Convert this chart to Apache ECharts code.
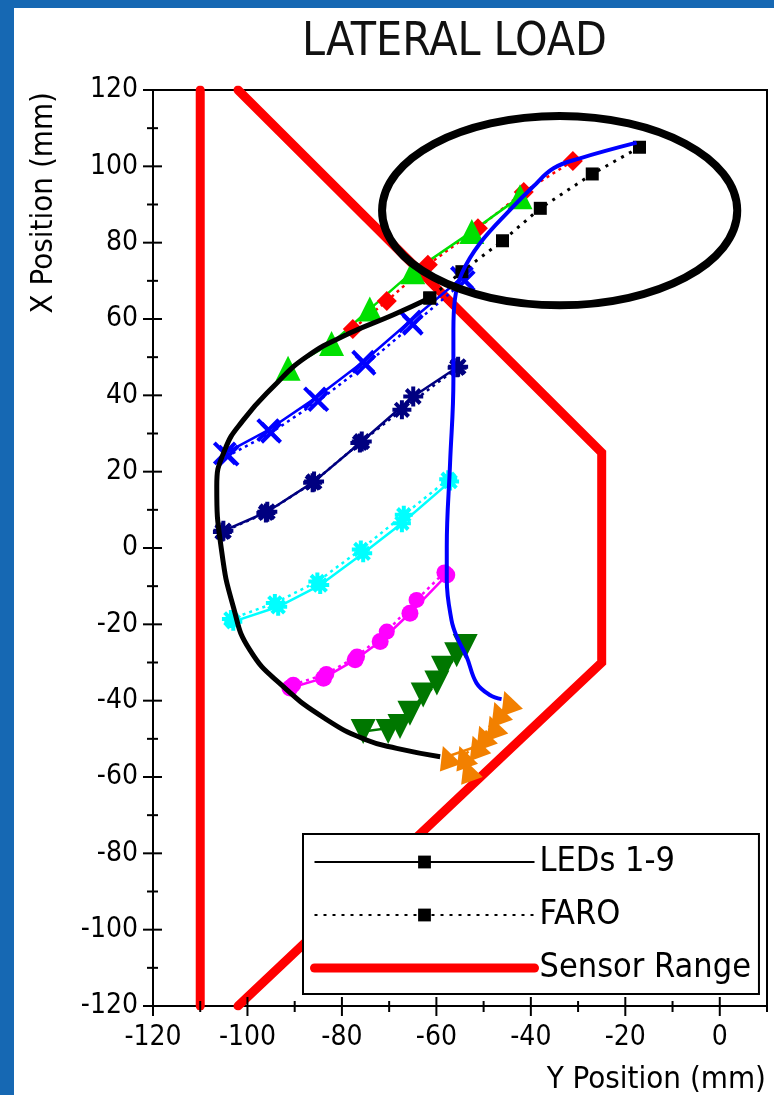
<!DOCTYPE html>
<html>
<head>
<meta charset="UTF-8">
<title>Lateral Load</title>
<script src="https://cdn.jsdelivr.net/npm/echarts@6/dist/echarts.min.js"></script>
<style>
  * { margin: 0; padding: 0; }
  body { background: #fff; }
  #chart { width: 774px; height: 1095px; }
</style>
</head>
<body>
<div id="chart"></div>
<script>
const FONT = '"DejaVu Sans Condensed", "Liberation Sans Narrow", "DejaVu Sans", sans-serif';

// axis ticks (major ones are labelled)
const xMajorTicks = [-120, -100, -80, -60, -40, -20, 0];
const xMinorTicks = [-110, -90, -70, -50, -30, -10, 10];
const yMajorTicks = [-120, -100, -80, -60, -40, -20, 0, 20, 40, 60, 80, 100, 120];
const yMinorTicks = [-110, -90, -70, -50, -30, -10, 10, 30, 50, 70, 90, 110];

// sensor range outline
const sensorLeft = [[-110, 120], [-110, -120]];
const sensorRight = [[-102, 120], [-25, 25], [-25, -30], [-102, -120]];

// black: LED envelope curve and FARO squares
const blackLed = [[-59.2, -54.7], [-68.4, -52.5], [-74.8, -50.3], [-83.2, -45], [-92.4, -36.3], [-99.5, -26.7],
  [-103, -15.4], [-105.5, -0.5], [-106.5, 16.1], [-104.8, 25.7], [-100.9, 33.5], [-94.5, 42.3],
  [-87.5, 50.1], [-78.3, 56.3], [-69.1, 61.1], [-61.4, 65.5]];
const blackFaro = [[-17, 105], [-27, 98], [-38, 89], [-46, 80.5], [-54.6, 72.4], [-61.4, 65.5]];

// blue trace
const blueTrace = [[-17.6, 106.2], [-29.6, 102.1], [-35.2, 99.5], [-39.5, 94.7], [-44.4, 88.6], [-50.8, 79.8],
  [-54.6, 72], [-56.1, 65], [-56.4, 57.1], [-56.4, 44], [-57.1, 22.3], [-57.8, 0.4], [-57.8, -8.4],
  [-56.8, -18.9], [-55.7, -23.2], [-53.6, -28.5], [-51.5, -35.4], [-48.7, -38.5], [-46.2, -39.6]];

// coloured LEDs
const redFaro = [[-31.1, 101.4], [-41.5, 93.3], [-51.2, 83.8], [-61.8, 74.2], [-70.5, 64.7], [-77.7, 57.4]];
const greenLed = [[-42.3, 92], [-52.5, 82.9], [-65, 72.4], [-74.1, 62.6], [-82.2, 53.6], [-91.4, 47.1]];
const blueLed = [[-54.6, 70.8], [-65.6, 59.4], [-75.5, 48.8], [-85.7, 39.2], [-95.6, 30.9], [-104.8, 24.8]];
const blueFaro = [[-54, 70], [-65, 58.5], [-75, 48], [-85, 38.5], [-95, 30.2], [-104, 24.2]];
const navyLed = [[-55.4, 47.5], [-64.9, 39.7], [-75.8, 27.9], [-85.9, 17.4], [-95.8, 9.5], [-105.1, 4.5]];
const navyFaro = [[-55.6, 47.2], [-67.3, 36.2], [-76.2, 27.5], [-86.2, 17.1], [-96.1, 9.2], [-105.3, 4.2]];
const cyanLed = [[-57.1, 17.4], [-67.3, 6.5], [-75.5, -1.4], [-84.6, -9.7], [-93.5, -15.4], [-103, -19.3]];
const cyanFaro = [[-57.5, 18], [-66.9, 8.7], [-76, -0.4], [-85.2, -8.8], [-94.2, -14.4], [-103.5, -18.6]];
const magentaLed = [[-57.8, -7.1], [-65.6, -17.1], [-71.9, -24.5], [-77.2, -29.3], [-83.9, -34.1], [-91, -36.7]];
const magentaFaro = [[-58.3, -6.4], [-64.2, -13.6], [-70.5, -21.9], [-76.8, -28.4], [-83.3, -33], [-90.3, -35.8]];
const dkGreenLed = [[-53.9, -25.8], [-58.5, -31.5], [-62.8, -38.5], [-67.7, -46.8], [-75.5, -48.1]];
const dkGreenFaro = [[-55.7, -28], [-59.9, -35.4], [-65.6, -43.3], [-70.2, -48.1]];
const orangeLed = [[-44.8, -40.3], [-47.9, -46.8], [-51.5, -52], [-57.8, -54.7]];
const orangeFaro = [[-46.9, -43.2], [-50.1, -49.4], [-54.3, -54.7], [-53.3, -58.2]];

// highlighted region
const ellipseCenter = [-33.9, 88.4];
const ellipseRadius = [37.6, 24.8];

const xPath = 'path://M0,0L10,10M10,0L0,10';
const starPath = 'path://M5,0L5,10M0,5L10,5M1.5,1.5L8.5,8.5M8.5,1.5L1.5,8.5';

function led(name, data, color, symbol, size, dotted, opts) {
  opts = opts || {};
  const stroke = symbol.indexOf('path://') === 0;
  return {
    name: name, type: 'line', data: data, symbol: symbol, symbolSize: size,
    symbolRotate: opts.rotate || 0, z: 3,
    color: color,
    lineStyle: { color: color, width: 2.5, type: dotted ? [3, 4] : 'solid' },
    itemStyle: { color: color, borderColor: color, borderWidth: stroke ? 4 : 0, opacity: 1 },
    emphasis: { disabled: true }
  };
}

// crossing tick marks, placed through the axis scales
function tickSeries(name, values, horizontal) {
  return {
    name: name, type: 'custom', z: 7, silent: true,
    data: values.map(v => [v, horizontal ? 1 : 0]),
    encode: horizontal ? { x: 0, y: 1 } : { x: 1, y: 0 },
    renderItem: function (params, api) {
      const v = api.value(0);
      const major = v % 20 === 0;
      const inLen = major ? 9 : 5;
      const outLen = major ? 10 : 6;
      if (horizontal) {
        const p = api.coord([v, -120]);
        return { type: 'line', shape: { x1: p[0], y1: p[1] - inLen, x2: p[0], y2: p[1] + outLen },
          style: { stroke: '#000', lineWidth: 2 } };
      }
      const p = api.coord([-120, v]);
      return { type: 'line', shape: { x1: p[0] - outLen, y1: p[1], x2: p[0] + inLen, y2: p[1] },
        style: { stroke: '#000', lineWidth: 2 } };
    }
  };
}

const axisFont = { fontSize: 28, fontFamily: FONT, color: '#000' };

const chart = echarts.init(document.getElementById('chart'));
chart.setOption({
  backgroundColor: '#fff',
  animation: false,
  title: {
    text: 'LATERAL LOAD', left: 297, top: 15,
    textStyle: { fontSize: 46, fontWeight: 'normal', color: '#111', fontFamily: FONT }
  },
  grid: {
    left: 153, top: 90, width: 614, height: 916,
    show: true, borderColor: '#000', borderWidth: 2, backgroundColor: 'transparent'
  },
  legend: {
    orient: 'vertical', left: 303, top: 834, align: 'left',
    itemWidth: 220, itemHeight: 16, itemGap: 13,
    padding: [8, 8, 6, 7],
    borderColor: '#000', borderWidth: 2, backgroundColor: '#fff',
    textStyle: { fontSize: 34, fontFamily: FONT, color: '#000', lineHeight: 40 },
    data: [
      { name: 'LEDs 1-9' },
      { name: 'FARO' },
      { name: 'Sensor Range', itemStyle: { opacity: 0 }, lineStyle: { width: 9, cap: 'round' } }
    ]
  },
  xAxis: {
    type: 'value', min: -120, max: 10, interval: 20,
    axisLine: { onZero: false, lineStyle: { color: '#000', width: 2 } },
    axisTick: { show: false },
    axisLabel: Object.assign({ margin: 18, customValues: xMajorTicks }, axisFont),
    splitLine: { show: false }
  },
  yAxis: {
    type: 'value', min: -120, max: 120, interval: 20,
    axisLine: { show: true, onZero: false, lineStyle: { color: '#000', width: 2 } },
    axisTick: { show: false },
    axisLabel: Object.assign({ margin: 15 }, axisFont),
    splitLine: { show: false }
  },
  graphic: [
    { type: 'rect', shape: { x: 0, y: 0, width: 774, height: 8 }, style: { fill: '#1668b3' }, z: 100 },
    { type: 'rect', shape: { x: 0, y: 0, width: 14, height: 1095 }, style: { fill: '#1668b3' }, z: 100 },
    {
      type: 'text', x: 44, y: 92, rotation: Math.PI / 2,
      style: { text: 'X Position (mm)', fontSize: 31, fontFamily: FONT, fill: '#000', align: 'right', verticalAlign: 'middle' }
    },
    {
      type: 'text', x: 766, y: 1080,
      style: { text: 'Y Position (mm)', fontSize: 31, fontFamily: FONT, fill: '#000', align: 'right', verticalAlign: 'middle' }
    }
  ],
  series: [
    tickSeries('xMajor', xMajorTicks, true),
    tickSeries('xMinor', xMinorTicks, true),
    tickSeries('yMajor', yMajorTicks, false),
    tickSeries('yMinor', yMinorTicks, false),
    {
      name: 'Sensor Range', type: 'line', data: sensorLeft, symbol: 'none', color: '#ff0000', z: 1,
      lineStyle: { color: '#ff0000', width: 9, cap: 'round' }
    },
    {
      name: 'Sensor Range', type: 'line', data: sensorRight, symbol: 'none', color: '#ff0000', z: 1,
      lineStyle: { color: '#ff0000', width: 9, cap: 'round', join: 'miter' }
    },
    led('LED 9 FARO', redFaro, '#ff0000', 'diamond', 20, true),
    led('LED 8', greenLed, '#00e000', 'triangle', 25, false),
    led('LED 7 FARO', blueFaro, '#0000ff', xPath, 19, true),
    led('LED 7', blueLed, '#0000ff', xPath, 21, false),
    led('LED 6 FARO', navyFaro, '#000080', starPath, 19, true),
    led('LED 6', navyLed, '#000080', starPath, 20, false),
    led('LED 5 FARO', cyanFaro, '#00ffff', starPath, 18, true),
    led('LED 5', cyanLed, '#00ffff', starPath, 18, false),
    led('LED 4 FARO', magentaFaro, '#ff00ff', 'circle', 16, true),
    led('LED 4', magentaLed, '#ff00ff', 'circle', 17, false),
    led('LED 3 FARO', dkGreenFaro, '#007700', 'triangle', 25, true, { rotate: 180 }),
    led('LED 3', dkGreenLed, '#007700', 'triangle', 25, false, { rotate: 180 }),
    led('LED 2 FARO', orangeFaro, '#f28000', 'triangle', 23, true, { rotate: 20 }),
    led('LED 2', orangeLed, '#f28000', 'triangle', 23, false, { rotate: 20 }),
    {
      name: 'LEDs 1-9', type: 'line', smooth: 0.5, color: '#000', z: 4,
      symbol: 'rect', symbolSize: 13,
      data: blackLed.map((p, i) => i === blackLed.length - 1 ? { value: p } : { value: p, symbol: 'none' }),
      lineStyle: { color: '#000', width: 5 },
      itemStyle: { color: '#000' }
    },
    {
      name: 'FARO', type: 'line', data: blackFaro, color: '#000', z: 4,
      symbol: 'rect', symbolSize: 13,
      lineStyle: { color: '#000', width: 3, type: [3, 6] },
      itemStyle: { color: '#000' }
    },
    {
      name: 'trace', type: 'line', data: blueTrace, smooth: 0.4, symbol: 'none', z: 5,
      color: '#0000ff', lineStyle: { color: '#0000ff', width: 4 }
    },
    {
      name: 'region', type: 'custom', z: 6,
      data: [[ellipseCenter[0], ellipseCenter[1], ellipseRadius[0], ellipseRadius[1]]],
      encode: { x: 0, y: 1 },
      renderItem: function (params, api) {
        const c = api.coord([api.value(0), api.value(1)]);
        const s = api.size([api.value(2), api.value(3)]);
        return {
          type: 'ellipse',
          shape: { cx: c[0], cy: c[1], rx: s[0], ry: s[1] },
          style: { fill: null, stroke: '#000', lineWidth: 8 }
        };
      }
    }
  ]
});
</script>
</body>
</html>
